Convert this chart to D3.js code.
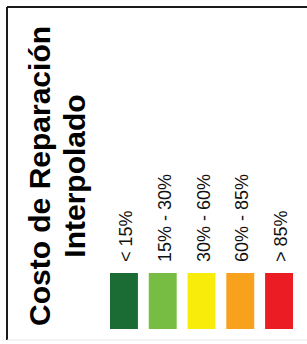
<!DOCTYPE html>
<html>
<head>
<meta charset="utf-8">
<script src="https://cdn.jsdelivr.net/npm/d3@7"></script>
<style>
  html, body { margin: 0; padding: 0; background: #fff; }
  svg { display: block; font-family: "Liberation Sans", Arial, sans-serif; }
</style>
</head>
<body>
<div id="chart"></div>
<script>
// legend data
const titleLines = ["Costo de Reparación", "Interpolado"];
const categories = ["< 15%", "15% - 30%", "30% - 60%", "60% - 85%", "> 85%"];
const colors = ["#1b6b34", "#77bd43", "#f7ec0a", "#f8a11c", "#ec1c24"];

const width = 307, height = 344;

const svg = d3.select("#chart")
  .append("svg")
  .attr("width", width)
  .attr("height", height);

svg.append("rect")
  .attr("width", width)
  .attr("height", height)
  .attr("fill", "#fff");

// frame (only top and left edges are visible in the crop)
svg.append("line")
  .attr("x1", 7).attr("y1", 7).attr("x2", width).attr("y2", 7)
  .attr("stroke", "#1a1a1a").attr("stroke-width", 2);
svg.append("line")
  .attr("x1", 7).attr("y1", 7).attr("x2", 7).attr("y2", 340)
  .attr("stroke", "#1a1a1a").attr("stroke-width", 2);
svg.append("line")
  .attr("x1", 7).attr("y1", 340).attr("x2", width).attr("y2", 340)
  .attr("stroke", "#e6e6e6").attr("stroke-width", 1);

// title, rotated
const titleX = d3.scaleOrdinal().domain(titleLines).range([50, 85]);
svg.selectAll("text.title")
  .data(titleLines)
  .enter()
  .append("text")
  .attr("class", "title")
  .attr("transform", d => `translate(${titleX(d)},176) rotate(-90)`)
  .attr("text-anchor", "middle")
  .attr("font-size", 30)
  .attr("font-weight", "bold")
  .attr("fill", "#000")
  .text(d => d);

// swatches
const x = d3.scaleBand()
  .domain(categories)
  .range([110, 293])
  .paddingInner(0.28)
  .paddingOuter(0);

const color = d3.scaleOrdinal().domain(categories).range(colors);

svg.selectAll("rect.swatch")
  .data(categories)
  .enter()
  .append("rect")
  .attr("class", "swatch")
  .attr("x", d => x(d))
  .attr("y", 273)
  .attr("width", x.bandwidth())
  .attr("height", 56)
  .attr("fill", d => color(d));

// labels
svg.selectAll("text.label")
  .data(categories)
  .enter()
  .append("text")
  .attr("class", "label")
  .attr("transform", d => `translate(${x(d) + x.bandwidth() / 2 + 8},262) rotate(-90)`)
  .attr("text-anchor", "start")
  .attr("font-size", 18)
  .attr("fill", "#111")
  .text(d => d);
</script>
</body>
</html>
